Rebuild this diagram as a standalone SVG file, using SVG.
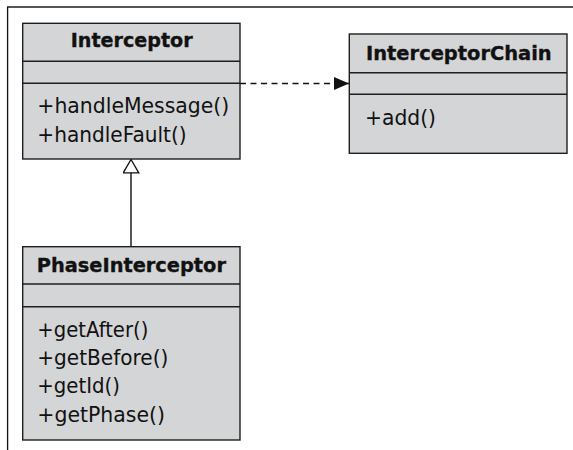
<svg xmlns="http://www.w3.org/2000/svg" width="573" height="450" viewBox="0 0 573 450">
  <style>
    .box { fill: #d4d5d7; stroke: #1e1e1e; stroke-width: 1.4; }
    .sep { stroke: #1e1e1e; stroke-width: 1.4; }
    .title { font-family: "DejaVu Sans", "Liberation Sans", sans-serif; font-weight: bold; font-size: 19.5px; fill: #111; stroke: #111; stroke-width: 0.35px; }
    .op { font-family: "DejaVu Sans", "Liberation Sans", sans-serif; font-size: 21px; fill: #111; }
    .conn { stroke: #111; stroke-width: 1.4; fill: none; }
    .dash { stroke-dasharray: 6 4.5; }
  </style>
  <defs>
    <marker id="gen" viewBox="0 0 16 17" markerWidth="16" markerHeight="17" refX="14" refY="8.5" orient="auto" markerUnits="userSpaceOnUse">
      <path d="M0.7,0.7 L14,8.5 L0.7,16.3 Z" fill="#fff" stroke="#111" stroke-width="1.3"/>
    </marker>
    <marker id="dep" viewBox="0 0 15 13" markerWidth="15" markerHeight="13" refX="15" refY="6.5" orient="auto" markerUnits="userSpaceOnUse">
      <path d="M0,0 L15,6.5 L0,13 Z" fill="#111"/>
    </marker>
  </defs>

  <g id="frame">
    <line x1="7" y1="7" x2="573" y2="7" stroke="#555" stroke-width="2"/>
    <line x1="7.6" y1="7" x2="7.6" y2="450" stroke="#111" stroke-width="1.3"/>
  </g>

  <g id="connectors">
    <line class="conn dash" x1="240" y1="83.5" x2="349" y2="83.5" marker-end="url(#dep)"/>
    <line class="conn" x1="131" y1="246.7" x2="131" y2="159.5" marker-end="url(#gen)"/>
  </g>

  <g id="Interceptor">
    <rect class="box" x="22.7" y="23.3" width="217.3" height="135.7"/>
    <line class="sep" x1="22.7" y1="61.3" x2="240" y2="61.3"/>
    <line class="sep" x1="22.7" y1="83.3" x2="240" y2="83.3"/>
    <text class="title" x="70.7" y="47.3" textLength="122" lengthAdjust="spacingAndGlyphs">Interceptor</text>
    <text class="op" x="37.3" y="113.3" textLength="192" lengthAdjust="spacingAndGlyphs">+handleMessage()</text>
    <text class="op" x="37.3" y="141.7" textLength="149.4" lengthAdjust="spacingAndGlyphs">+handleFault()</text>
  </g>

  <g id="InterceptorChain">
    <rect class="box" x="349.3" y="34" width="217.7" height="119.3"/>
    <line class="sep" x1="349.3" y1="72.7" x2="567" y2="72.7"/>
    <line class="sep" x1="349.3" y1="94.3" x2="567" y2="94.3"/>
    <text class="title" x="366" y="60" textLength="185.7" lengthAdjust="spacingAndGlyphs">InterceptorChain</text>
    <text class="op" x="365" y="125" textLength="71" lengthAdjust="spacingAndGlyphs">+add()</text>
  </g>

  <g id="PhaseInterceptor">
    <rect class="box" x="22.7" y="246.7" width="217.3" height="193.3"/>
    <line class="sep" x1="22.7" y1="284" x2="240" y2="284"/>
    <line class="sep" x1="22.7" y1="306.7" x2="240" y2="306.7"/>
    <text class="title" x="36.7" y="271.7" textLength="189.3" lengthAdjust="spacingAndGlyphs">PhaseInterceptor</text>
    <text class="op" x="37.3" y="336.7" textLength="111" lengthAdjust="spacingAndGlyphs">+getAfter()</text>
    <text class="op" x="37.3" y="365" textLength="131" lengthAdjust="spacingAndGlyphs">+getBefore()</text>
    <text class="op" x="37.3" y="392.7" textLength="82.7" lengthAdjust="spacingAndGlyphs">+getId()</text>
    <text class="op" x="37.3" y="421.7" textLength="127.7" lengthAdjust="spacingAndGlyphs">+getPhase()</text>
  </g>
</svg>
